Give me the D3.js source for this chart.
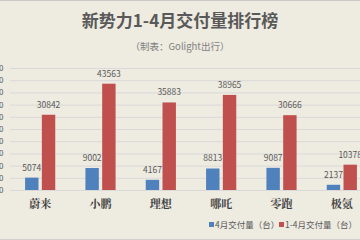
<!DOCTYPE html>
<html><head><meta charset="utf-8">
<script src="https://cdn.jsdelivr.net/npm/d3@7"></script>
<style>html,body{margin:0;padding:0;background:#EEEBE1;overflow:hidden}</style>
</head><body>
<svg id="c" width="360" height="240"></svg>
<script>
const categories = ["蔚来","小鹏","理想","哪吒","零跑","极氪"];
const seriesNames = ["4月交付量（台）","1-4月交付量（台）"];
const aprilValues = [5074, 9002, 4167, 8813, 9087, 2137];
const ytdValues = [30842, 43563, 35883, 38965, 30666, 10378];
const yTicks = [0,5000,10000,15000,20000,25000,30000,35000,40000,45000,50000];
const colors = ["#4F81BD","#C0504D"];

const svg = d3.select("#c");
const font = "'Noto Sans CJK SC','Noto Sans',sans-serif";
svg.append("rect").attr("width",360).attr("height",240).attr("fill","#EEEBE1");
svg.append("line").attr("x1",0).attr("x2",360).attr("y1",0.5).attr("y2",0.5).attr("stroke","#C8C8C8");
svg.append("line").attr("x1",0).attr("x2",360).attr("y1",239.5).attr("y2",239.5).attr("stroke","#D0D0D0");

const y = d3.scaleLinear().domain([0,50000]).range([190,68]);
const x0 = d3.scaleBand().domain(categories).range([10,372]).paddingInner(0.5).paddingOuter(0.25);
const x1 = d3.scaleBand().domain([0,1]).range([0,x0.bandwidth()]).paddingInner(0.2);

// gridlines + tick labels
const yAxis = d3.axisLeft(y).tickValues(yTicks).tickSize(-362).tickFormat(d3.format("d"));
const ga = svg.append("g").attr("transform","translate(10,0)").call(yAxis);
ga.select(".domain").remove();
ga.selectAll(".tick line").attr("stroke","#D9D9D9").attr("stroke-width",1);
ga.selectAll(".tick text").attr("x",-6.5).attr("fill","#595959").style("font-family",font).style("font-size","8px");

const data = categories.map((c,i)=>({c, v:[aprilValues[i], ytdValues[i]]}));
const g = svg.append("g");
const grp = g.selectAll("g.cat").data(data).enter().append("g")
  .attr("transform",d=>`translate(${x0(d.c)},0)`);
grp.selectAll("rect").data(d=>d.v.map((v,k)=>({v,k}))).enter().append("rect")
  .attr("x",d=>x1(d.k)).attr("width",x1.bandwidth())
  .attr("y",d=>y(d.v)).attr("height",d=>y(0)-y(d.v))
  .attr("fill",d=>colors[d.k]);
grp.selectAll("text").data(d=>d.v.map((v,k)=>({v,k}))).enter().append("text")
  .attr("x",d=>x1(d.k)+x1.bandwidth()/2).attr("y",d=>y(d.v)-7)
  .attr("text-anchor","middle").attr("fill","#595959")
  .style("font-family",font).style("font-size","8.5px").text(d=>d.v);

// category labels
svg.append("g").selectAll("text").data(categories).enter().append("text")
  .attr("x",d=>x0(d)+x0.bandwidth()/2).attr("y",208)
  .attr("text-anchor","middle").attr("fill","#404040")
  .style("font-family","'Noto Serif CJK SC','Noto Sans CJK SC',serif").style("font-size","11px").style("font-weight","bold").text(d=>d);

// title
svg.append("text").attr("x",180).attr("y",27).attr("text-anchor","middle")
  .attr("fill","#595959").style("font-family",font).style("font-size","17px").style("font-weight","bold")
  .text("新势力1-4月交付量排行榜");
svg.append("text").attr("x",180).attr("y",50).attr("text-anchor","middle")
  .attr("fill","#7F7F7F").style("font-family",font).style("font-size","9.5px")
  .text("（制表：Golight出行）");

// legend
const lx = [209, 279];
const lg = svg.append("g");
seriesNames.forEach((n,i)=>{
  lg.append("rect").attr("x",lx[i]).attr("y",222).attr("width",5).attr("height",5).attr("fill",colors[i]);
  lg.append("text").attr("x",lx[i]+6).attr("y",227.5).attr("fill","#595959")
    .style("font-family",font).style("font-size","8.5px").text(n);
});
</script>
</body></html>
